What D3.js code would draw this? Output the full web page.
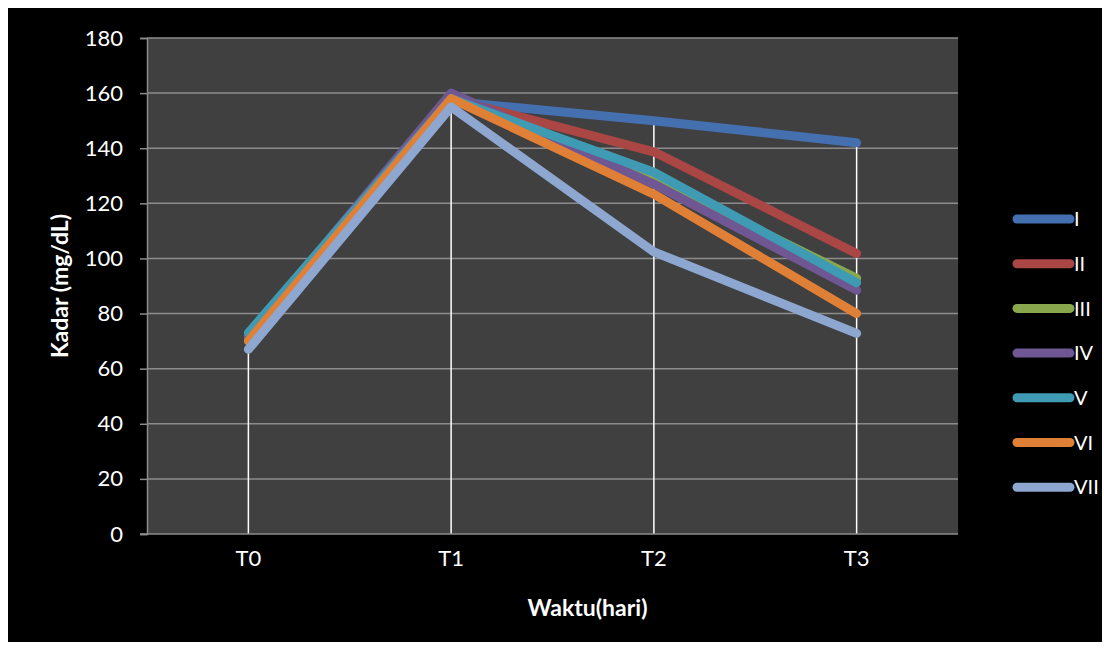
<!DOCTYPE html>
<html><head><meta charset="utf-8">
<script src="https://cdn.jsdelivr.net/npm/d3@7/dist/d3.min.js"></script>
<style>html,body{margin:0;padding:0;background:#fff;}svg{display:block;}</style>
</head><body>
<script>
const categories = ["T0", "T1", "T2", "T3"];
const seriesNames = ["I", "II", "III", "IV", "V", "VI", "VII"];
const sI   = [72, 157, 150, 142];
const sII  = [71, 158, 138.7, 101.8];
const sIII = [72, 159, 129, 92.8];
const sIV  = [72, 160, 127, 88.5];
const sV   = [73, 158, 131.3, 91.2];
const sVI  = [70, 158, 123.3, 80];
const sVII = [67, 155, 102.4, 72.8];
const yTicks = [0, 20, 40, 60, 80, 100, 120, 140, 160, 180];
const colors = ["#4470b0", "#aa4644", "#89a74c", "#6f5793", "#3f9ab3", "#e07f36", "#8ea7d0"];

const seriesValues = [sI, sII, sIII, sIV, sV, sVI, sVII];
const W = 1104, H = 649;
const svg = d3.select("body").append("svg").attr("width", W).attr("height", H);
const font = "Lato, 'Open Sans', sans-serif";

svg.append("rect").attr("x", 8).attr("y", 8).attr("width", 1094).attr("height", 634).attr("fill", "#000");

const pLeft = 147, pRight = 958, pTop = 38, pBottom = 534;
const x = d3.scaleBand().domain(categories).range([pLeft, pRight]);
const y = d3.scaleLinear().domain([0, 180]).range([pBottom, pTop]);

svg.append("rect").attr("x", pLeft).attr("y", pTop).attr("width", pRight - pLeft).attr("height", pBottom - pTop).attr("fill", "#404040");

// gridlines
svg.append("g").selectAll("line").data(yTicks.filter(d => d > 0)).join("line")
  .attr("x1", pLeft).attr("x2", pRight).attr("y1", d => y(d)).attr("y2", d => y(d))
  .attr("stroke", "#8c8c8c").attr("stroke-width", 1.5);

// drop lines
const maxAt = categories.map((c, i) => d3.max(seriesValues, s => s[i]));
svg.append("g").selectAll("line").data(categories).join("line")
  .attr("x1", d => x(d) + x.bandwidth() / 2).attr("x2", d => x(d) + x.bandwidth() / 2)
  .attr("y1", (d, i) => y(maxAt[i])).attr("y2", pBottom)
  .attr("stroke", "#ffffff").attr("stroke-width", 1.5);

// axes
const yAxis = svg.append("g").attr("transform", `translate(${pLeft},0)`)
  .call(d3.axisLeft(y).tickValues(yTicks).tickSize(7).tickPadding(17));
yAxis.select(".domain").attr("stroke", "#8c8c8c").attr("stroke-width", 1.5);
yAxis.selectAll(".tick line").attr("stroke", "#8c8c8c").attr("stroke-width", 1.5);
yAxis.selectAll("text").attr("fill", "#fff").attr("font-size", 22).attr("font-family", font);

const xAxis = svg.append("g").attr("transform", `translate(0,${pBottom})`)
  .call(d3.axisBottom(x).tickSize(0).tickPadding(16));
xAxis.select(".domain").attr("stroke", "#8c8c8c").attr("stroke-width", 1.5).attr("d", `M${pLeft - 7},0H${pRight}`);
xAxis.selectAll("text").attr("fill", "#fff").attr("font-size", 22).attr("font-family", font);

// axis titles
svg.append("text").attr("x", (pLeft + pRight) / 2 + 35).attr("y", 616).attr("text-anchor", "middle")
  .attr("fill", "#fff").attr("font-size", 23).attr("font-weight", "bold").attr("font-family", font).text("Waktu(hari)");
svg.append("text").attr("transform", `translate(68,${(pTop + pBottom) / 2}) rotate(-90)`).attr("text-anchor", "middle")
  .attr("fill", "#fff").attr("font-size", 23).attr("font-weight", "bold").attr("font-family", font).text("Kadar (mg/dL)");

// lines
const line = d3.line().x((d, i) => x(categories[i]) + x.bandwidth() / 2).y(d => y(d));
svg.append("g").selectAll("path").data(seriesValues).join("path")
  .attr("d", d => line(d)).attr("fill", "none")
  .attr("stroke", (d, i) => colors[i]).attr("stroke-width", 9)
  .attr("stroke-linecap", "round").attr("stroke-linejoin", "round");

// legend
const lg = svg.append("g").selectAll("g").data(seriesNames).join("g")
  .attr("transform", (d, i) => `translate(0,${219 + i * 44.7})`);
lg.append("line").attr("x1", 1017).attr("x2", 1070).attr("y1", 0).attr("y2", 0)
  .attr("stroke", (d, i) => colors[i]).attr("stroke-width", 9).attr("stroke-linecap", "round");
lg.append("text").attr("x", 1074).attr("y", 0).attr("dy", "0.36em").attr("fill", "#fff")
  .attr("font-size", 20).attr("font-family", font).text(d => d);
</script>
</body></html>
